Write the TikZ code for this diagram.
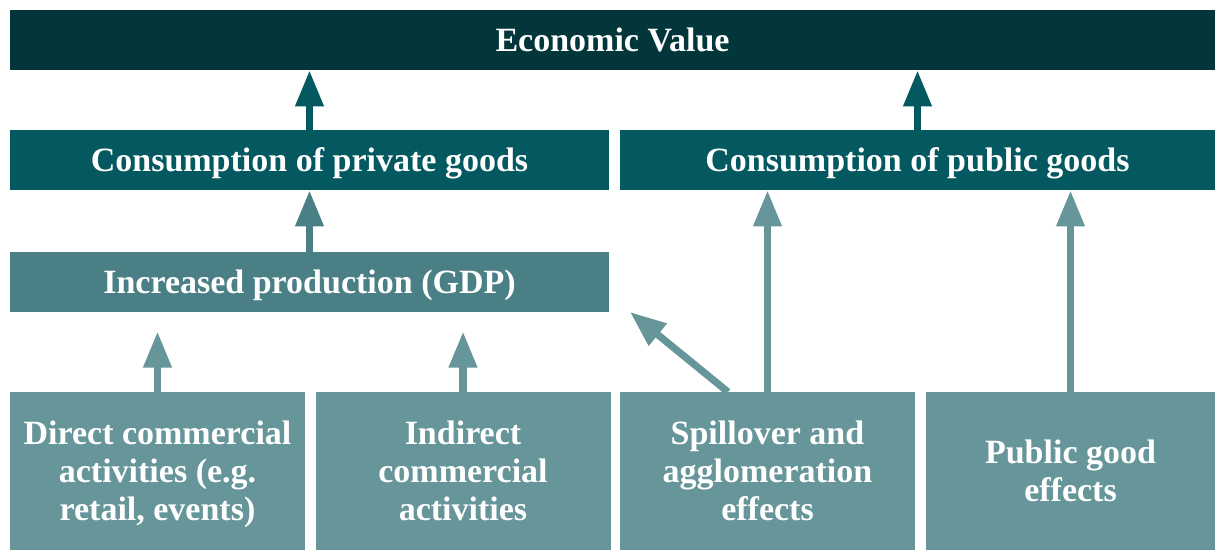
\documentclass[tikz,border=0pt]{standalone}
\usepackage{fontspec}
\setmainfont{Liberation Serif}
\usetikzlibrary{arrows.meta}
\definecolor{valuecol}{HTML}{02363B}
\definecolor{conscol}{HTML}{03595F}
\definecolor{gdpcol}{HTML}{4A7F86}
\definecolor{effcol}{HTML}{66959A}
\begin{document}
\begin{tikzpicture}[x=0.5pt, y=-0.5pt,
        box/.style={rectangle, inner sep=0pt, text depth=0pt, text=white, font=\fontsize{17}{19}\selectfont\bfseries, align=center},
        wide/.style={box, minimum width=299.5pt, minimum height=30pt},
        effect/.style={box, minimum width=147.5pt, minimum height=79pt},
        arrow/.style={-{Triangle[width=13.5pt, length=18pt]}, line width=3.6pt}
    ]
    \useasboundingbox (0,0) rectangle (1216,550);
    \node[box, fill=valuecol, minimum width=602.5pt, minimum height=30pt] (value) at (612.5,40) {Economic Value};
    \node[wide, fill=conscol] (priv) at (309.5,160) {Consumption of private goods};
    \node[box, fill=conscol, minimum width=297.5pt, minimum height=30pt] (pub) at (917.5,160) {Consumption of public goods};
    \node[wide, fill=gdpcol] (gdp) at (309.5,282) {Increased production (GDP)};
    \node[effect, fill=effcol] (direct) at (157.5,471) {Direct commercial\\activities (e.g.\\retail, events)};
    \node[effect, fill=effcol] (indirect) at (463,471) {Indirect\\commercial\\activities};
    \node[effect, fill=effcol] (spill) at (767.5,471) {Spillover and\\agglomeration\\effects};
    \node[effect, fill=effcol, minimum width=144.5pt] (pubeff) at (1070.5,471) {Public good\\effects};
    \coordinate (spillout) at (728,392);
    \coordinate (gdpin) at (630,312);
    \draw[arrow, conscol] (priv.north) -- (priv.north |- value.south);
    \draw[arrow, conscol] (pub.north) -- (pub.north |- value.south);
    \draw[arrow, gdpcol] (gdp.north) -- (gdp.north |- priv.south);
    \draw[arrow, effcol] (direct.north) -- ++(0,-60);
    \draw[arrow, effcol] (indirect.north) -- ++(0,-60);
    \draw[arrow, effcol] (spillout) -- (gdpin);
    \draw[arrow, effcol] (spill.north) -- (spill.north |- pub.south);
    \draw[arrow, effcol] (pubeff.north) -- (pubeff.north |- pub.south);
\end{tikzpicture}
\end{document}
